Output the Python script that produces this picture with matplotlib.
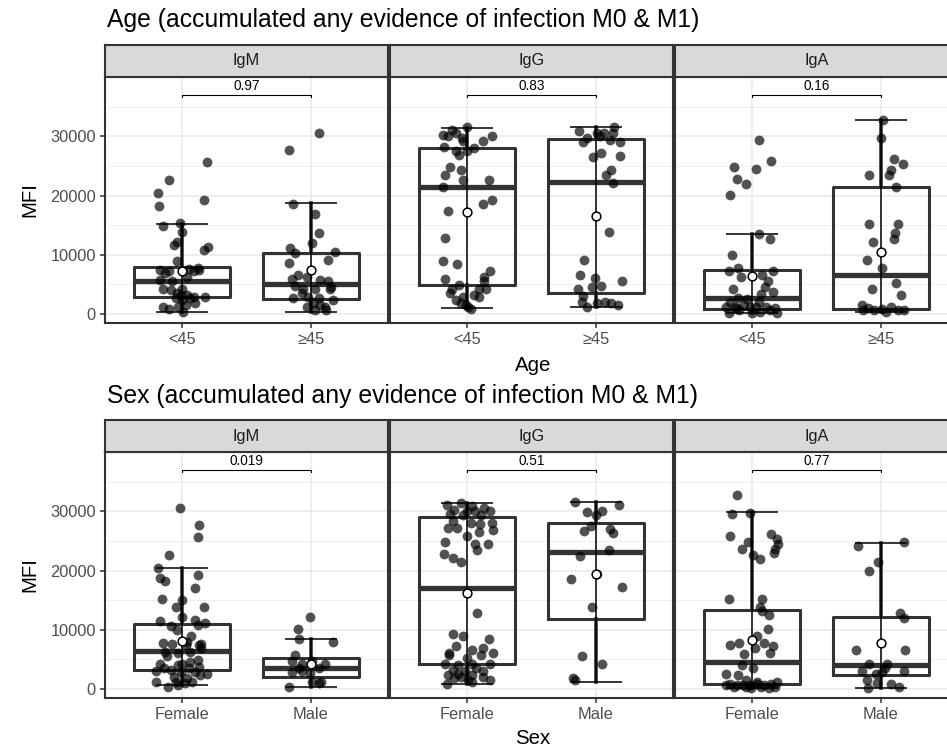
import matplotlib
matplotlib.use("Agg")
import matplotlib.pyplot as plt

plt.rcParams['font.family'] = ['Liberation Sans', 'DejaVu Sans']

# ---------------- data ----------------
facets = ["IgM", "IgG", "IgA"]
age_groups = ["<45", "≥45"]
sex_groups = ["Female", "Male"]
age_pvals = ["0.97", "0.83", "0.16"]
sex_pvals = ["0.019", "0.51", "0.77"]

# point values (MFI) and their horizontal jitter
age_igm_lt45 = [25700, 22700, 20500, 18300, 19300, 14900, 15300, 13800, 12200, 11700, 11400, 10800, 8900, 7400, 7300, 7600, 7700, 7200, 7400, 5800, 5500, 6300, 4300, 4100, 3500, 3200, 3200, 2900, 2900, 2700, 2400, 1800, 1500, 1200, 800, 1200, 400, 4300, 6900, 2700]
age_igm_lt45_jit = [0.19, -0.10, -0.19, -0.18, 0.17, -0.15, -0.02, 0.00, -0.04, -0.06, 0.20, 0.17, -0.04, -0.17, -0.10, 0.05, 0.12, 0.09, 0.13, -0.17, -0.08, 0.04, -0.15, -0.09, -0.04, -0.01, 0.04, 0.09, 0.18, -0.05, 0.00, 0.10, 0.03, -0.15, -0.10, -0.03, 0.01, 0.00, -0.13, 0.06]
age_igm_ge45 = [30500, 27700, 18600, 16900, 13600, 12000, 11100, 10300, 10500, 8600, 9100, 6600, 6300, 5900, 5800, 5600, 4700, 4300, 4200, 4300, 2700, 2900, 2700, 2400, 1800, 1200, 700, 600, 3500, 4600, 1200, 1500]
age_igm_ge45_jit = [0.06, -0.17, -0.14, 0.03, 0.06, 0.01, -0.16, -0.12, 0.19, -0.17, 0.13, -0.10, -0.03, -0.15, 0.07, 0.13, -0.12, -0.06, 0.03, 0.15, -0.14, -0.02, 0.06, 0.17, 0.02, 0.11, 0.03, 0.12, -0.07, 0.16, -0.03, 0.07]

age_igg_lt45 = [31600, 31000, 30300, 30000, 29700, 30600, 29200, 30000, 29300, 28000, 28200, 27500, 26900, 27500, 24900, 24400, 23500, 22700, 22700, 21500, 18600, 19200, 17400, 12800, 8900, 8500, 7200, 6200, 5900, 4300, 4900, 4200, 4300, 3500, 3200, 2900, 2900, 2400, 1800, 1200, 800, 1500, 5500]
age_igg_lt45_jit = [0.00, -0.12, -0.19, -0.15, -0.04, -0.09, -0.03, 0.19, 0.12, 0.05, -0.18, -0.09, -0.06, 0.00, -0.13, -0.05, -0.17, -0.03, 0.17, -0.19, 0.12, 0.19, -0.15, -0.17, -0.19, -0.08, 0.18, 0.13, -0.17, -0.12, -0.06, 0.15, 0.09, -0.13, 0.05, -0.03, 0.09, -0.09, -0.05, 0.01, 0.03, -0.01, 0.13]
age_igg_ge45 = [31600, 30900, 30600, 30600, 30600, 29700, 30000, 29400, 29000, 29000, 27200, 26500, 26700, 24400, 23500, 22100, 13800, 9100, 6600, 6000, 5600, 4700, 4600, 4200, 3000, 2100, 1200, 1800, 2100, 1800, 1500]
age_igg_ge45_jit = [0.14, -0.13, 0.01, 0.06, 0.13, -0.07, 0.03, 0.11, 0.19, -0.10, 0.04, -0.02, 0.19, 0.12, 0.08, 0.13, 0.10, -0.09, -0.12, -0.01, 0.20, 0.04, -0.03, -0.14, -0.10, -0.11, -0.07, 0.01, 0.07, 0.12, 0.17]

age_iga_lt45 = [29400, 24800, 24500, 25800, 22800, 22000, 20100, 13500, 12700, 10000, 7700, 7200, 6200, 7300, 6600, 5600, 4600, 4300, 3800, 3400, 2700, 2500, 2100, 2100, 1200, 1200, 1100, 1200, 1200, 1000, 200, 600, 200, 400, 600, 200, 1500, 1000]
age_iga_lt45_jit = [0.05, -0.14, 0.03, 0.15, -0.12, -0.05, -0.17, 0.05, 0.14, -0.16, -0.11, -0.18, -0.09, 0.16, 0.08, 0.12, 0.10, -0.15, 0.16, 0.07, -0.11, -0.04, -0.17, 0.05, -0.20, -0.13, -0.02, 0.03, 0.11, 0.18, -0.18, -0.10, 0.00, 0.06, 0.14, 0.19, -0.06, -0.12]
age_iga_ge45 = [32700, 29700, 26200, 25400, 24400, 23500, 23500, 21500, 15200, 15200, 13600, 12600, 12100, 9100, 7700, 5200, 4200, 3200, 1500, 1000, 700, 800, 1200, 700, 600, 600, 400]
age_iga_ge45_jit = [0.02, 0.00, 0.10, 0.17, 0.08, 0.06, -0.09, 0.12, -0.09, 0.13, 0.11, 0.10, -0.06, -0.11, 0.01, 0.12, -0.07, 0.16, -0.15, -0.10, -0.05, 0.01, 0.08, 0.13, 0.18, -0.14, 0.04]

sex_igm_female = [30500, 27700, 25600, 22700, 20500, 18700, 18300, 19300, 17000, 15200, 15100, 13800, 13800, 12100, 11500, 11700, 10700, 10800, 11100, 10000, 9000, 7700, 7600, 7400, 7400, 7600, 6000, 6200, 5500, 4900, 4300, 4300, 4600, 3200, 3000, 2900, 2900, 2500, 2400, 2100, 1800, 1200, 1100, 1000, 400, 600, 3500, 3500, 3800, 6300, 8000, 6900, 4100, 1200]
sex_igm_female_jit = [-0.02, 0.13, 0.12, -0.10, -0.19, -0.17, -0.13, 0.12, 0.10, -0.16, 0.00, -0.05, 0.17, 0.00, -0.17, 0.10, -0.09, 0.12, 0.18, -0.04, 0.07, -0.15, -0.08, 0.03, 0.13, 0.15, -0.03, 0.06, -0.12, 0.12, -0.17, 0.00, 0.06, -0.09, -0.20, -0.01, 0.10, 0.19, 0.14, -0.06, 0.04, -0.20, -0.05, 0.02, -0.11, -0.03, -0.14, 0.05, 0.13, -0.13, 0.04, 0.15, -0.03, 0.08]
sex_igm_male = [12200, 10100, 8500, 7900, 5800, 4700, 4300, 4300, 4700, 3500, 3000, 2900, 2700, 3500, 1200, 1000, 400, 1200]
sex_igm_male_jit = [-0.01, -0.10, -0.09, 0.17, -0.12, -0.15, -0.07, 0.11, 0.01, 0.06, -0.07, -0.15, -0.01, -0.09, 0.08, 0.06, -0.17, 0.01]

sex_igg_female = [31500, 31000, 30900, 30600, 30100, 30300, 30000, 30000, 29600, 29400, 29400, 28300, 28000, 27900, 28000, 27200, 27200, 26600, 26900, 25900, 24900, 24500, 24500, 23500, 22800, 22200, 21500, 12800, 9300, 8900, 8500, 7300, 6600, 6900, 6000, 6000, 5800, 5200, 4300, 4100, 4200, 4200, 3200, 3000, 3000, 2400, 2500, 2300, 1800, 1500, 2100, 1500, 800, 1200, 2100, 3500, 5800]
sex_igg_female_jit = [-0.05, -0.16, 0.04, 0.13, 0.18, -0.10, 0.00, 0.06, -0.13, -0.03, 0.11, -0.11, 0.03, 0.10, 0.19, -0.15, -0.08, 0.09, 0.20, 0.00, -0.17, 0.06, 0.16, 0.08, -0.18, -0.11, -0.05, 0.08, -0.11, -0.03, 0.17, -0.09, 0.04, 0.12, -0.14, 0.20, 0.11, 0.00, -0.17, -0.07, 0.04, 0.18, -0.11, -0.02, 0.12, -0.15, -0.07, 0.04, -0.10, 0.01, 0.12, 0.18, -0.16, 0.04, -0.05, 0.07, -0.14]
sex_igg_male = [31600, 31000, 29900, 30000, 29400, 27600, 26700, 27100, 26300, 23500, 22400, 18600, 17300, 19400, 13800, 5600, 4300, 1800, 1500]
sex_igg_male_jit = [-0.16, 0.18, -0.07, 0.05, 0.00, -0.04, -0.09, 0.11, 0.13, 0.10, -0.12, -0.19, 0.20, 0.01, -0.03, -0.11, 0.05, -0.18, -0.16]

sex_iga_female = [32700, 29600, 29800, 25900, 26200, 25300, 24500, 24800, 23600, 23700, 23000, 22700, 22000, 15200, 15200, 13800, 13200, 12500, 10200, 9000, 7400, 7700, 7700, 7300, 7000, 5900, 6000, 4100, 2500, 2400, 1500, 800, 700, 600, 700, 800, 700, 800, 1200, 400, 200, 400, 200, 400, 600, 400, 1100, 3500]
sex_iga_female_jit = [-0.12, -0.16, -0.02, -0.17, 0.15, 0.19, 0.20, -0.03, -0.08, 0.18, 0.17, 0.01, 0.06, -0.18, 0.08, 0.06, 0.08, 0.13, 0.12, 0.04, -0.17, -0.10, 0.09, 0.16, 0.02, -0.06, 0.14, -0.08, -0.20, -0.11, -0.05, -0.17, -0.12, -0.07, -0.02, 0.04, 0.09, 0.15, 0.19, -0.14, -0.01, 0.07, 0.13, 0.18, -0.20, -0.05, 0.04, 0.01]
sex_iga_male = [24200, 24800, 21500, 20000, 12800, 12000, 6600, 6600, 4300, 4300, 3000, 2900, 2500, 3000, 1500, 1000, 800, 400, 100, 3500]
sex_iga_male_jit = [-0.18, 0.18, -0.02, -0.09, 0.15, 0.18, -0.19, 0.19, -0.09, 0.05, -0.15, 0.01, -0.04, 0.18, -0.11, -0.03, 0.08, 0.14, -0.10, 0.03]

# box statistics: [facet][group]
age_q1 = [[2900, 2500], [4900, 3500], [900, 900]]
age_med = [[5500, 5000], [21500, 22300], [2700, 6600]]
age_q3 = [[8000, 10300], [28100, 29600], [7400, 21500]]
age_lo = [[400, 400], [1000, 1200], [200, 300]]
age_hi = [[15200, 18700], [31500, 31600], [13500, 32700]]
age_mean = [[7200, 7400], [17200, 16600], [6500, 10500]]

sex_q1 = [[3200, 2100], [4300, 11800], [800, 2300]]
sex_med = [[6400, 3500], [17100, 23200], [4500, 4100]]
sex_q3 = [[10900, 5200], [29000, 28000], [13400, 12200]]
sex_lo = [[600, 400], [800, 1200], [200, 200]]
sex_hi = [[20400, 8400], [31400, 31600], [29900, 24700]]
sex_mean = [[8100, 4300], [16200, 19400], [8300, 7800]]

age_points = [[(age_igm_lt45, age_igm_lt45_jit), (age_igm_ge45, age_igm_ge45_jit)],
              [(age_igg_lt45, age_igg_lt45_jit), (age_igg_ge45, age_igg_ge45_jit)],
              [(age_iga_lt45, age_iga_lt45_jit), (age_iga_ge45, age_iga_ge45_jit)]]
sex_points = [[(sex_igm_female, sex_igm_female_jit), (sex_igm_male, sex_igm_male_jit)],
              [(sex_igg_female, sex_igg_female_jit), (sex_igg_male, sex_igg_male_jit)],
              [(sex_iga_female, sex_iga_female_jit), (sex_iga_male, sex_iga_male_jit)]]

# ---------------- layout ----------------
W, H = 947, 748
fig = plt.figure(figsize=(W / 100, H / 100), dpi=100)


def fx(px):
    return px / W


def fy(py):
    return 1 - py / H


DARK = '#333333'
GRID = '#EBEBEB'
TICKC = '#4D4D4D'
panel_lefts = [105, 390, 675]
panel_w = 283


def draw_row(strip_top, strip_bottom, panel_bottom, title, title_y, groups,
             points, q1, med, q3, lo, hi, mean, pvals, xlabel, xlabel_y):
    fig.text(fx(107), fy(title_y), title, fontsize=17.8, ha='left', va='center', color='black')
    for j, facet in enumerate(facets):
        l = panel_lefts[j]
        ax = fig.add_axes([fx(l), fy(panel_bottom), panel_w / W, (panel_bottom - strip_bottom) / H])
        ax.set_xlim(0.4, 2.6)
        ax.set_ylim(-1520, 40030)
        ax.set_axisbelow(True)
        ax.set_yticks([0, 10000, 20000, 30000])
        ax.set_yticks([5000, 15000, 25000, 35000], minor=True)
        ax.set_xticks([1, 2])
        ax.grid(which='major', color=GRID, lw=1.2)
        ax.grid(which='minor', axis='y', color=GRID, lw=0.6)
        for s in ax.spines.values():
            s.set_color(DARK)
            s.set_linewidth(1.5)
        ax.tick_params(axis='both', which='major', length=3.5, width=1.1, color=DARK,
                       labelsize=11.8, labelcolor=TICKC, pad=3)
        ax.tick_params(axis='y', which='minor', length=0)
        ax.set_xticklabels(groups)
        if j == 0:
            ax.set_yticklabels(['0', '10000', '20000', '30000'])
        else:
            ax.tick_params(axis='y', left=False, labelleft=False)

        stats = []
        for g in range(2):
            stats.append(dict(med=med[j][g], q1=q1[j][g], q3=q3[j][g],
                              whislo=lo[j][g], whishi=hi[j][g], fliers=[]))
        ax.bxp(stats, positions=[1, 2], widths=0.75, showcaps=False, showfliers=False,
               boxprops=dict(color=DARK, lw=2.2),
               medianprops=dict(color=DARK, lw=3.8, solid_capstyle='butt'),
               whiskerprops=dict(color=DARK, lw=2.6), manage_ticks=False, zorder=2)
        for g in range(2):
            pos = g + 1
            ax.vlines(pos, lo[j][g], hi[j][g], color='black', lw=1.1, zorder=2.5)
            ax.hlines([lo[j][g], hi[j][g]], pos - 0.2, pos + 0.2, color='black', lw=1.1, zorder=2.5)
            vals, jit = points[j][g]
            ax.scatter([pos + d for d in jit], vals, s=50, color='black', alpha=0.68,
                       linewidths=0, zorder=3)
            ax.plot(pos, mean[j][g], 'o', mfc='white', mec='black', ms=6.3, mew=1.1, zorder=5)
        # significance bracket
        ax.plot([1, 1, 2, 2], [36600, 37000, 37000, 36600], color='black', lw=0.8, zorder=4)
        ax.text(1.5, 37250, pvals[j], ha='center', va='bottom', fontsize=9.8, color='black')

        sax = fig.add_axes([fx(l), fy(strip_bottom), panel_w / W, (strip_bottom - strip_top) / H])
        sax.set_facecolor('#D9D9D9')
        sax.set_xticks([])
        sax.set_yticks([])
        for s in sax.spines.values():
            s.set_color(DARK)
            s.set_linewidth(1.5)
        sax.text(0.5, 0.5, facet, ha='center', va='center', fontsize=11.8, color='#1A1A1A',
                 transform=sax.transAxes)

    fig.text(fx(30), fy((strip_bottom + panel_bottom) / 2), 'MFI', rotation=90,
             fontsize=14.7, ha='center', va='center')
    fig.text(fx(533), fy(xlabel_y), xlabel, fontsize=14.7, ha='center', va='center')


draw_row(45, 77, 323, 'Age (accumulated any evidence of infection M0 & M1)', 20,
         age_groups, age_points, age_q1, age_med, age_q3, age_lo, age_hi, age_mean,
         age_pvals, 'Age', 366)
draw_row(420, 452, 698, 'Sex (accumulated any evidence of infection M0 & M1)', 396,
         sex_groups, sex_points, sex_q1, sex_med, sex_q3, sex_lo, sex_hi, sex_mean,
         sex_pvals, 'Sex', 739)

fig.savefig('out.png', dpi=100)
